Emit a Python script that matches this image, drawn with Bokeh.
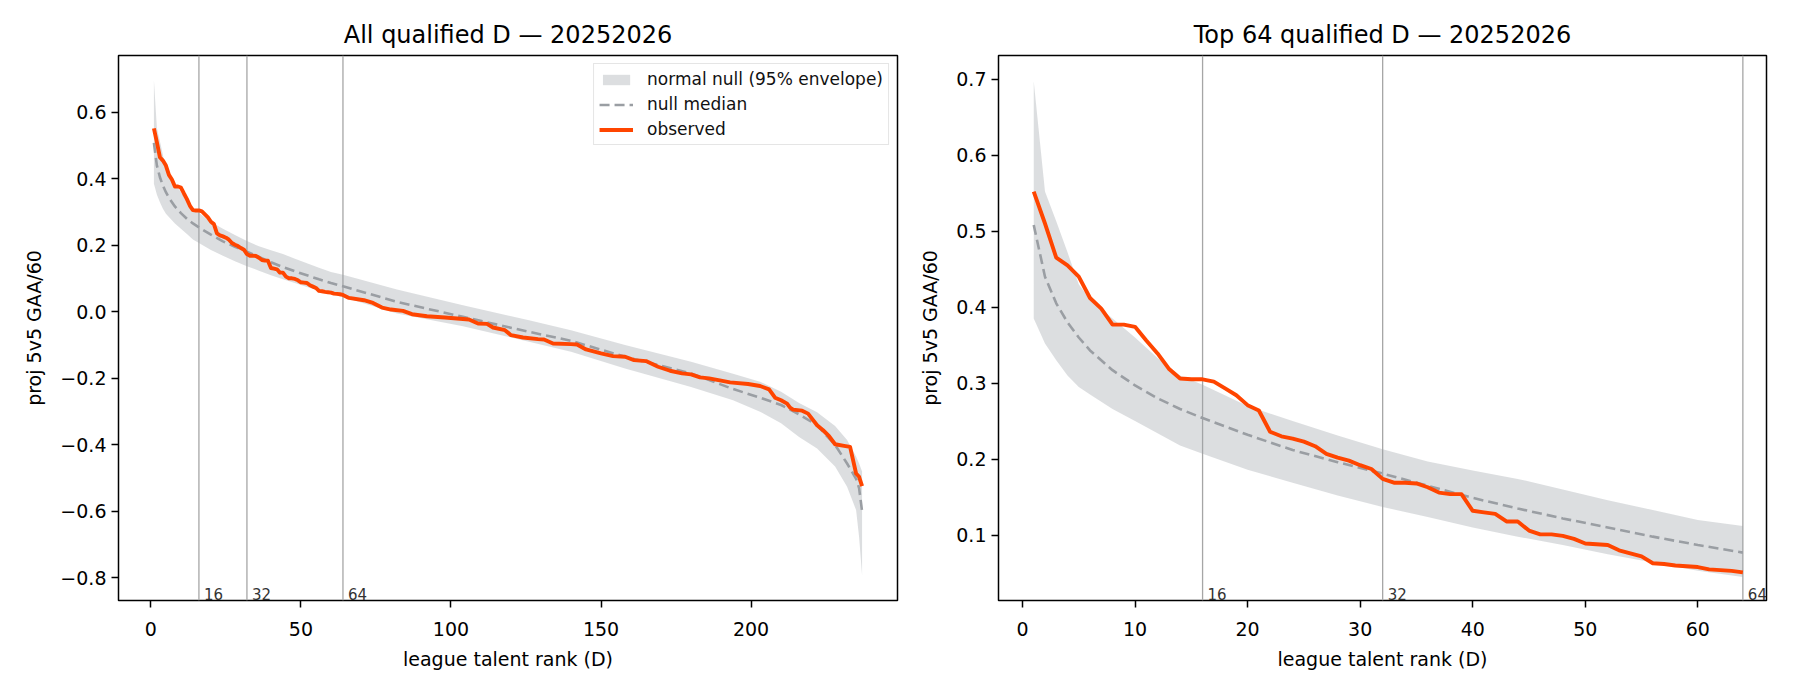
from bokeh.plotting import figure
from bokeh.layouts import row
from bokeh.models import FixedTicker, CustomJSTickFormatter, Span
from bokeh.embed import file_html
from bokeh.resources import INLINE
from bokeh.core.properties import value

# ---------------- data ----------------
season = "20252026"
marks = [16, 32, 64]
top_n = 64

# observed projected 5v5 GAA/60 by league talent rank
obs_rank = list(range(1, 65)) + [
    66, 71, 74, 77, 80, 84, 87, 92, 98, 102, 106, 109, 112, 114, 118, 120,
    124, 129, 131, 134, 140, 142, 145, 150, 154, 158, 161, 165, 169, 173,
    177, 180, 183, 186, 190, 193, 199, 203, 206, 208, 210, 212, 213, 214,
    217, 219, 222, 224, 226, 228, 231, 233, 235, 236, 237]
obs_val = [
    0.552, 0.510, 0.465, 0.455, 0.440, 0.412, 0.398, 0.377, 0.377, 0.374,
    0.356, 0.339, 0.319, 0.306, 0.305, 0.305, 0.302, 0.293, 0.284, 0.271,
    0.264, 0.236, 0.230, 0.227, 0.223, 0.217, 0.207, 0.202, 0.198, 0.192,
    0.187, 0.174, 0.169, 0.169, 0.168, 0.163, 0.156, 0.154, 0.154, 0.132,
    0.130, 0.128, 0.118, 0.118, 0.106, 0.101, 0.101, 0.099, 0.095, 0.089,
    0.088, 0.087, 0.080, 0.076, 0.072, 0.063, 0.062, 0.060, 0.059, 0.058,
    0.055, 0.054, 0.053, 0.051,
    0.042, 0.035, 0.027, 0.013, 0.007, 0.003, -0.007, -0.013, -0.017, -0.020,
    -0.023, -0.035, -0.036, -0.047, -0.055, -0.070, -0.077, -0.082, -0.083,
    -0.095, -0.097, -0.098, -0.113, -0.125, -0.133, -0.135, -0.145, -0.148,
    -0.165, -0.177, -0.185, -0.188, -0.197, -0.200, -0.207, -0.212, -0.217,
    -0.223, -0.233, -0.258, -0.266, -0.276, -0.288, -0.294, -0.297, -0.306,
    -0.341, -0.356, -0.374, -0.398, -0.403, -0.406, -0.486, -0.496, -0.524]

# normal null: median and 95% envelope
env_rank = [1, 2, 3, 4, 5, 6, 8, 10, 12, 14, 16, 20, 24, 28, 32, 36, 40, 44,
            48, 52, 56, 60, 64, 82, 104, 126, 140, 158, 180, 194, 203, 210,
            216, 222, 228, 232, 235, 236, 237]
null_med = [0.508, 0.440, 0.405, 0.380, 0.360, 0.343, 0.317, 0.297, 0.280,
            0.266, 0.254, 0.232, 0.212, 0.196, 0.181, 0.165, 0.149, 0.135,
            0.122, 0.110, 0.098, 0.087, 0.077, 0.030, -0.015, -0.060, -0.087,
            -0.135, -0.185, -0.232, -0.258, -0.280, -0.308, -0.341, -0.400,
            -0.456, -0.502, -0.530, -0.600]
null_hi = [0.697, 0.552, 0.513, 0.472, 0.430, 0.410, 0.385, 0.360, 0.333,
           0.310, 0.298, 0.270, 0.250, 0.231, 0.213, 0.197, 0.185, 0.174,
           0.160, 0.146, 0.133, 0.120, 0.112, 0.067, 0.020, -0.025, -0.055,
           -0.100, -0.150, -0.186, -0.210, -0.240, -0.274, -0.302, -0.343,
           -0.385, -0.435, -0.456, -0.480]
null_lo = [0.385, 0.352, 0.330, 0.310, 0.295, 0.285, 0.266, 0.250, 0.234,
           0.218, 0.207, 0.186, 0.169, 0.152, 0.137, 0.124, 0.110, 0.098,
           0.087, 0.075, 0.064, 0.053, 0.045, -0.005, -0.043, -0.090, -0.120,
           -0.170, -0.226, -0.266, -0.300, -0.335, -0.376, -0.411, -0.465,
           -0.526, -0.596, -0.677, -0.793]

left_xticks = [0, 50, 100, 150, 200]
left_yticks = [-0.8, -0.6, -0.4, -0.2, 0.0, 0.2, 0.4, 0.6]
right_xticks = [0, 10, 20, 30, 40, 50, 60]
right_yticks = [0.1, 0.2, 0.3, 0.4, 0.5, 0.6, 0.7]

# ---------------- styling ----------------
FONT = "DejaVu Sans"
OBS_COLOR = "#ff4500"
BAND_COLOR = "#9aa0a6"
MED_COLOR = "#9a9ea3"
VLINE_COLOR = "#a6a6a6"
FIG_H = 674

fmt = CustomJSTickFormatter(code="""
    const s = Math.abs(tick).toFixed(1);
    return (tick < -1e-9 ? '\u2212' : '') + s;
""")


def upto(ranks, vals, n):
    keep = [i for i, r in enumerate(ranks) if r <= n]
    return [ranks[i] for i in keep], [vals[i] for i in keep]


def make_fig(title, xr, yr, xticks, yticks, width, bl, br, legend, n_max):
    p = figure(width=width, height=FIG_H, x_range=xr, y_range=yr,
               output_backend="svg", toolbar_location=None,
               min_border_left=bl, min_border_right=br,
               min_border_top=55, min_border_bottom=74, title=title)
    p.title.text_font = FONT
    p.title.text_font_size = "24px"
    p.title.text_font_style = "normal"
    p.title.text_color = "black"
    p.title.align = "center"
    p.title.standoff = 13
    p.grid.visible = False
    p.outline_line_color = "black"
    p.outline_line_width = 1.5
    p.background_fill_color = "white"
    p.border_fill_color = "white"

    for ax in (p.xaxis[0], p.yaxis[0]):
        ax.axis_line_color = None
        ax.major_tick_line_color = "black"
        ax.major_tick_line_width = 1.5
        ax.major_tick_out = 7
        ax.major_tick_in = 0
        ax.minor_tick_line_color = None
        ax.major_label_text_font = FONT
        ax.major_label_text_font_size = "19px"
        ax.major_label_text_color = "black"
        ax.axis_label_text_font = FONT
        ax.axis_label_text_font_size = "19px"
        ax.axis_label_text_font_style = "normal"
        ax.axis_label_text_color = "black"
    p.xaxis[0].ticker = FixedTicker(ticks=xticks)
    p.yaxis[0].ticker = FixedTicker(ticks=yticks)
    p.yaxis[0].formatter = fmt
    p.xaxis[0].axis_label = "league talent rank (D)"
    p.yaxis[0].axis_label = "proj 5v5 GAA/60"
    p.xaxis[0].major_label_standoff = 14
    p.xaxis[0].axis_label_standoff = 9
    p.yaxis[0].major_label_standoff = 5
    p.yaxis[0].axis_label_standoff = 12

    kw_band = dict(legend_label="normal null (95% envelope)") if legend else {}
    kw_med = dict(legend_label="null median") if legend else {}
    kw_obs = dict(legend_label="observed") if legend else {}

    er, lo = upto(env_rank, null_lo, n_max)
    _, hi = upto(env_rank, null_hi, n_max)
    _, med = upto(env_rank, null_med, n_max)
    orank, oval = upto(obs_rank, obs_val, n_max)

    p.varea(x=er, y1=lo, y2=hi, fill_color=BAND_COLOR, fill_alpha=0.35,
            **kw_band)
    for m in marks:
        s = Span(location=m, dimension="height", line_color=VLINE_COLOR,
                 line_width=1.3)
        s.level = "underlay"
        p.add_layout(s)
    p.text(x=marks, y=[yr[0]] * len(marks), text=[str(m) for m in marks],
           text_font=value(FONT), text_font_size="15px", text_color="#333333",
           text_align="left", text_baseline="bottom", x_offset=5, y_offset=-1)
    p.line(x=er, y=med, line_color=MED_COLOR, line_width=2.6,
           line_dash="10 5", **kw_med)
    p.line(x=orank, y=oval, line_color=OBS_COLOR, line_width=3.9,
           line_join="round", **kw_obs)

    if legend:
        lg = p.legend[0]
        lg.location = "top_right"
        lg.margin = 8
        lg.padding = 5
        lg.spacing = 5
        lg.label_standoff = 14
        lg.glyph_width = 34
        lg.glyph_height = 13
        lg.label_height = 20
        lg.label_text_font = FONT
        lg.label_text_font_size = "17px"
        lg.label_text_color = "#111111"
        lg.border_line_color = "#cccccc"
        lg.border_line_width = 1.5
        lg.background_fill_color = "white"
        lg.background_fill_alpha = 0.8
    return p


# left: frame 779 px wide starting 118 px in; right: frame 768 px wide
p1 = make_fig("All qualified D \u2014 " + season, (-10.8, 248.8), (-0.868, 0.771),
              left_xticks, left_yticks, 907, 118, 10, True, max(obs_rank))
p2 = make_fig("Top %d qualified D \u2014 %s" % (top_n, season), (-2.13, 66.1),
              (0.014, 0.731), right_xticks, right_yticks, 874, 91, 15, False, top_n)

layout = row(p1, p2)
open("out.html", "w").write(file_html(layout, INLINE))
